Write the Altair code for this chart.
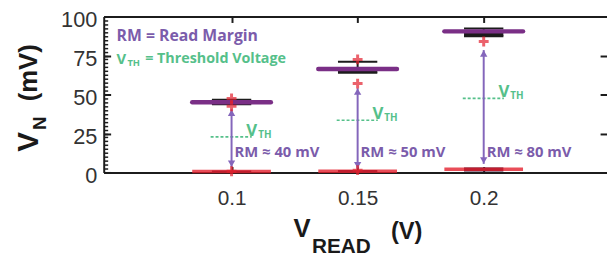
import altair as alt
import pandas as pd

# ---------------- data ----------------
v_read = [0.1, 0.15, 0.2]
x_ticks = [0.1, 0.15, 0.2]
y_ticks = [0, 25, 50, 75, 100]
y_minor = [i * 2.5 for i in range(41)]

# upper (high-state) distributions
up_median = [45.0, 66.3, 90.5]
up_q1 = [43.7, 64.0, 87.4]
up_q3 = [46.6, 66.8, 90.9]
up_whisk_hi = [46.6, 71.0, 92.4]
up_whisk_lo = [43.7, 64.0, 87.4]
# lower (low-state) distributions
lo_median = [0.6, 0.8, 2.0]
lo_q1 = [0.1, 0.2, 0.6]
lo_q3 = [1.2, 1.5, 3.2]
# outliers (red +)
out_v = [0.1, 0.1, 0.1, 0.15, 0.15, 0.15, 0.2]
out_y = [47.5, 42.5, 0.8, 72.5, 57.0, 1.5, 84.0]
# read-margin arrows
arrow_lo = [3.5, 2.5, 5.5]
arrow_hi = [40.5, 54.0, 78.5]
rm_labels = ["RM ≈ 40 mV", "RM ≈ 50 mV", "RM ≈ 80 mV"]
# threshold voltages
vth = [22.8, 33.5, 47.5]

# ---------------- styles ----------------
PURPLE_BAR = "#7a2f86"
PURPLE_TXT = "#7b5cab"
ARROW = "#8466bb"
GREEN = "#55c08a"
RED = "#e3212e"
DARK = "#1c1c1c"
LABEL = "#333333"
W, H = 510, 158

df = pd.DataFrame({
    "v": v_read, "med": up_median, "q1": up_q1, "q3": up_q3,
    "whi": up_whisk_hi, "wlo": up_whisk_lo,
    "lmed": lo_median, "lq1": lo_q1, "lq3": lo_q3,
    "alo": arrow_lo, "ahi": arrow_hi, "rm": rm_labels, "vth": vth,
})
dfo = pd.DataFrame({"v": out_v, "y": out_y})
base = alt.Chart(df)

xs = alt.Scale(domain=[0.0493, 0.2489], nice=False, zero=False)
ys = alt.Scale(domain=[0, 100], nice=False, zero=False)

def xax(**kw):
    d = dict(title=None, grid=False, labels=False, ticks=False, domain=False)
    d.update(kw)
    return alt.Axis(**d)

ax_bottom = xax(orient="bottom", values=x_ticks, labels=True, domain=True,
                domainWidth=2, domainColor=DARK, labelFontSize=21,
                labelFont="Liberation Sans", labelColor=LABEL, labelPadding=15,
                labelExpr="datum.value == 0.15 ? '0.15' : format(datum.value, '.1f')")
ax_top = xax(orient="top", values=x_ticks, domain=True, domainWidth=2, domainColor=DARK)
ax_top_t = xax(orient="top", values=x_ticks, ticks=True, tickSize=6, tickWidth=2,
               tickColor=DARK, offset=-6)
ax_bot_t = xax(orient="bottom", values=x_ticks, ticks=True, tickSize=6, tickWidth=2,
               tickColor=DARK, offset=-6)
ax_left = xax(orient="left", values=y_ticks, labels=True, domain=True, domainWidth=2,
              domainColor=DARK, labelFontSize=22, labelFont="Liberation Sans",
              labelColor=LABEL, labelPadding=7, labelOffset=3)
ax_left_t = xax(orient="left", values=y_ticks, ticks=True, tickSize=7, tickWidth=2,
                tickColor=DARK, offset=-7)
ax_left_m = xax(orient="left", values=y_minor, ticks=True, tickSize=4, tickWidth=1.5,
                tickColor=DARK, offset=-4)
ax_right_t = xax(orient="right", values=[25, 50, 75], ticks=True, tickSize=7,
                 tickWidth=2, tickColor=DARK, offset=-7)

HALF_W = 0.0156   # half width of median bars
HALF_B = 0.0078   # half width of boxes / caps

# black boxes (upper)
box_up = base.transform_calculate(a=f"datum.v-{HALF_B}", b=f"datum.v+{HALF_B}").mark_rect(
    color=DARK).encode(
    x=alt.X("a:Q", scale=xs, axis=ax_top), x2="b:Q",
    y=alt.Y("q1:Q", scale=ys, axis=ax_left_t), y2="q3:Q")
# black boxes (lower)
box_lo = base.transform_calculate(a=f"datum.v-{HALF_B}", b=f"datum.v+{HALF_B}").mark_rect(
    color="#3a1030").encode(
    x=alt.X("a:Q", scale=xs, axis=None), x2="b:Q",
    y=alt.Y("lq1:Q", scale=ys, axis=None), y2="lq3:Q")
# whiskers
whisk = base.mark_rule(color=DARK, strokeWidth=2).encode(
    x=alt.X("v:Q", scale=xs, axis=None),
    y=alt.Y("wlo:Q", scale=ys, axis=None), y2="whi:Q")
caps_hi = base.transform_calculate(a=f"datum.v-{HALF_B}", b=f"datum.v+{HALF_B}").mark_rule(
    color=DARK, strokeWidth=2).encode(
    x=alt.X("a:Q", scale=xs, axis=None), x2="b:Q",
    y=alt.Y("whi:Q", scale=ys, axis=None))
caps_lo = base.transform_calculate(a=f"datum.v-{HALF_B}", b=f"datum.v+{HALF_B}").mark_rule(
    color=DARK, strokeWidth=2).encode(
    x=alt.X("a:Q", scale=xs, axis=None), x2="b:Q",
    y=alt.Y("wlo:Q", scale=ys, axis=None))
# purple medians (upper)
med_up = base.transform_calculate(a=f"datum.v-{HALF_W}", b=f"datum.v+{HALF_W}").mark_rule(
    color=PURPLE_BAR, strokeWidth=4.5, strokeCap="round").encode(
    x=alt.X("a:Q", scale=xs, axis=ax_bottom), x2="b:Q",
    y=alt.Y("med:Q", scale=ys, axis=ax_left))
# red medians (lower)
med_lo = base.transform_calculate(a=f"datum.v-{HALF_W}", b=f"datum.v+{HALF_W}").mark_rule(
    color=RED, strokeWidth=3.5, opacity=0.8).encode(
    x=alt.X("a:Q", scale=xs, axis=ax_bot_t), x2="b:Q",
    y=alt.Y("lmed:Q", scale=ys, axis=ax_right_t))
# outliers
outl = alt.Chart(dfo).mark_point(shape="M-1,0L1,0M0,-1L0,1", size=100, filled=False,
                                 stroke=RED, strokeWidth=3).encode(
    x=alt.X("v:Q", scale=xs, axis=ax_top_t),
    y=alt.Y("y:Q", scale=ys, axis=ax_left_m))
# arrows
arr = base.mark_rule(color=ARROW, strokeWidth=2).encode(
    x=alt.X("v:Q", scale=xs, axis=None),
    y=alt.Y("alo:Q", scale=ys, axis=None), y2="ahi:Q")
head_up = base.transform_calculate(h="datum.ahi-2.2").mark_point(
    shape="triangle-up", filled=True, color=ARROW, size=55, opacity=1).encode(
    x=alt.X("v:Q", scale=xs, axis=None), y=alt.Y("h:Q", scale=ys, axis=None))
head_dn = base.transform_calculate(h="datum.alo+2.2").mark_point(
    shape="triangle-down", filled=True, color=ARROW, size=55, opacity=1).encode(
    x=alt.X("v:Q", scale=xs, axis=None), y=alt.Y("h:Q", scale=ys, axis=None))
# VTH dashed lines and labels
vth_line = base.transform_calculate(a="datum.v-0.0083", b="datum.v+0.0080").mark_rule(
    color=GREEN, strokeWidth=1.6, strokeDash=[3, 2]).encode(
    x=alt.X("a:Q", scale=xs, axis=None), x2="b:Q",
    y=alt.Y("vth:Q", scale=ys, axis=None))
vth_v = base.mark_text(text="V", color=GREEN, fontSize=17, font="Open Sans",
                       fontWeight="bold", align="left", baseline="alphabetic",
                       dx=15, dy=-1).encode(
    x=alt.X("v:Q", scale=xs, axis=None), y=alt.Y("vth:Q", scale=ys, axis=None))
vth_s = base.mark_text(text="TH", color=GREEN, fontSize=10, font="Open Sans",
                       fontWeight="bold", align="left", baseline="alphabetic",
                       dx=27, dy=1).encode(
    x=alt.X("v:Q", scale=xs, axis=None), y=alt.Y("vth:Q", scale=ys, axis=None))
rm_txt = base.transform_calculate(ty="13").mark_text(
    color=PURPLE_TXT, fontSize=15, font="Open Sans", fontWeight="bold",
    align="left", baseline="middle", dx=3).encode(
    x=alt.X("v:Q", scale=xs, axis=None), y=alt.Y("ty:Q", scale=ys, axis=None),
    text="rm:N")

# ---------------- annotations (legend / titles) ----------------
def txt(s, x, y, size, color, weight="bold", font="Open Sans", angle=0,
        align="left", baseline="middle"):
    return alt.Chart(df).transform_filter("datum.v == 0.1").mark_text(
        text=s, fontSize=size, color=color, fontWeight=weight, font=font,
        angle=angle, align=align, baseline=baseline).encode(
        x=alt.value(x), y=alt.value(y))

legend = [
    txt("RM = Read Margin", 13, 20, 16, PURPLE_TXT),
    txt("V", 13, 43, 15, GREEN),
    txt("TH", 24, 47, 9.5, GREEN),
    txt("= Threshold Voltage", 42, 43, 14.5, GREEN),
]
TF = "Liberation Sans"
titles = [
    txt("V", -76, 127, 30, "#1a1a1a", font=TF, angle=270, align="center"),
    txt("N", -64, 108, 19, "#1a1a1a", font=TF, angle=270, align="center"),
    txt("(mV)", -76, 57, 26, "#1a1a1a", font=TF, angle=270, align="center"),
    txt("V", 201, 223, 26, "#1a1a1a", font=TF, align="center", baseline="alphabetic"),
    txt("READ", 211, 240, 21, "#1a1a1a", font=TF, baseline="alphabetic"),
    txt("(V)", 307, 225, 24, "#1a1a1a", font=TF, align="center", baseline="alphabetic"),
]

chart = alt.layer(
    vth_line, arr, head_up, head_dn, box_lo, med_lo, box_up, whisk, caps_hi, caps_lo,
    med_up, outl, vth_v, vth_s, rm_txt, *legend, *titles
).resolve_scale(x="independent", y="independent").resolve_axis(
    x="independent", y="independent"
).properties(
    width=W, height=H,
    autosize=alt.AutoSizeParams(type="none"),
    padding={"left": 97, "top": 7, "right": 0, "bottom": 83},
).configure_view(stroke=None).configure(background="white")

chart.save("out.html", embed_options={"renderer": "svg", "actions": False})
